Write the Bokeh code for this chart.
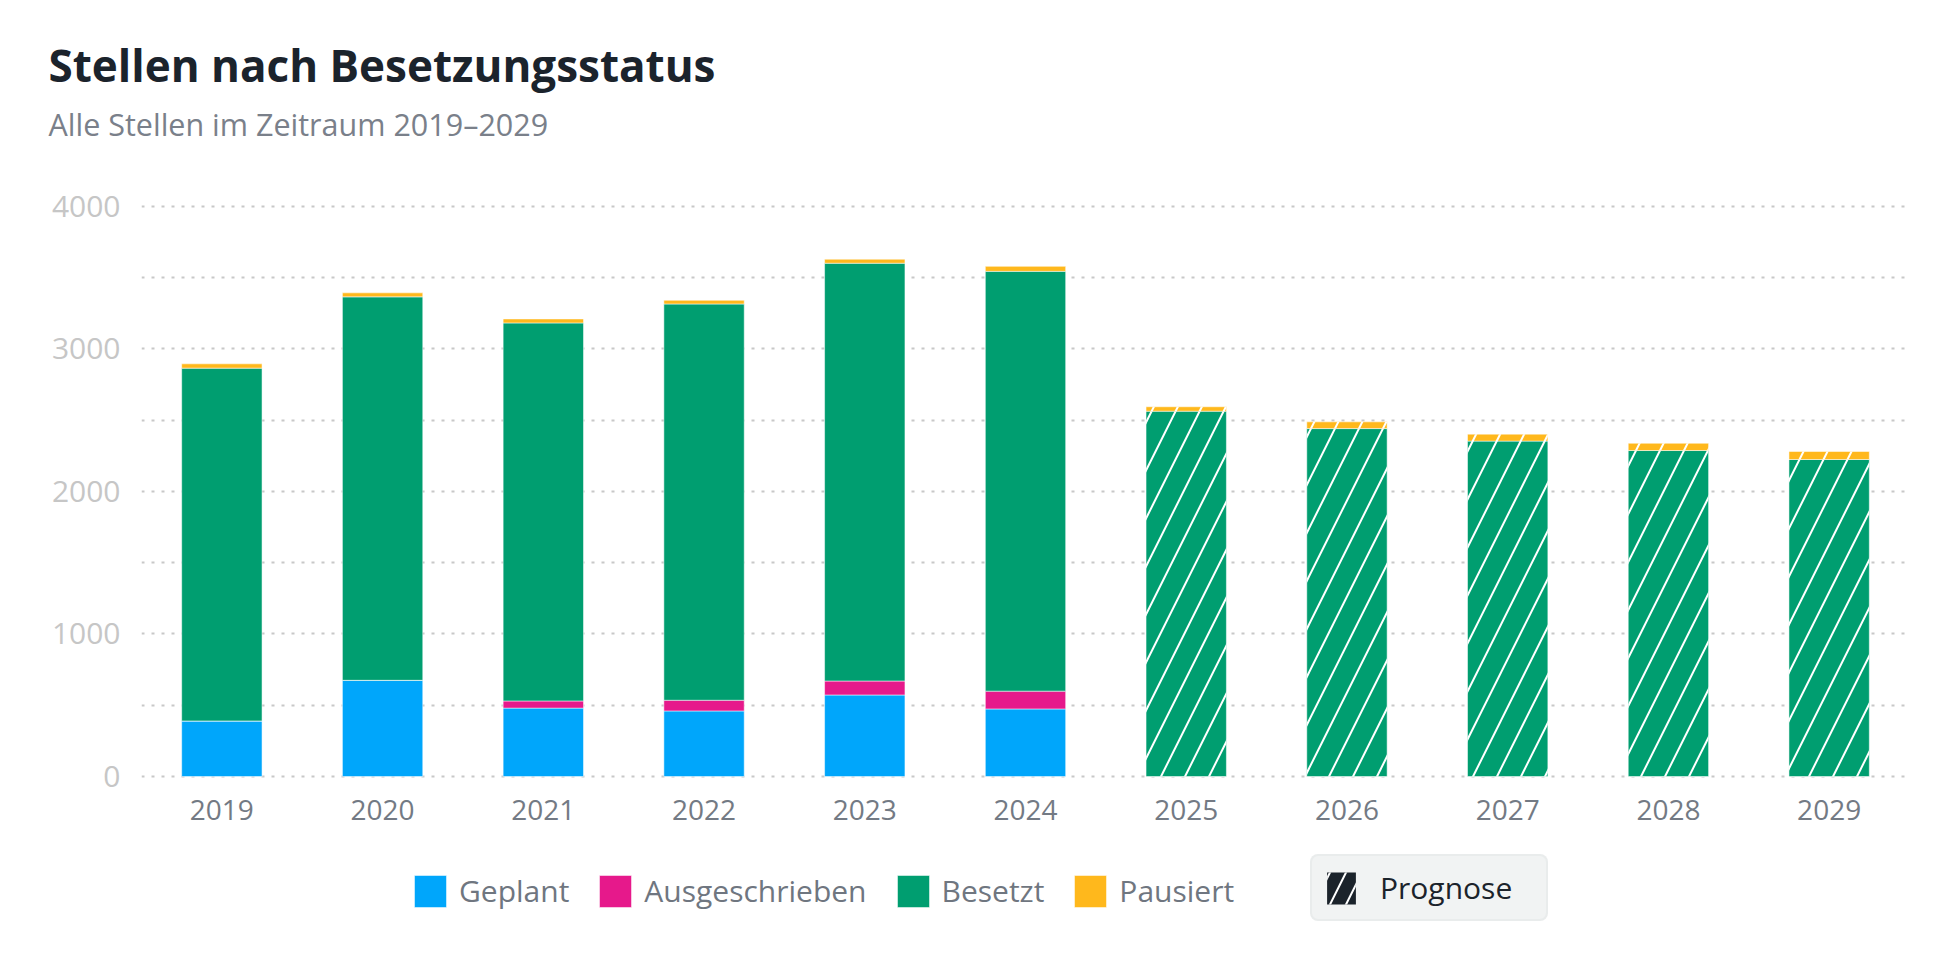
from bokeh.plotting import figure
from bokeh.models import (ColumnDataSource, FactorRange, Range1d, FixedTicker,
                          Legend, LegendItem, Title)
from bokeh.core.properties import field, value
from bokeh.embed import file_html
from bokeh.resources import INLINE

# ---------------- data ----------------
years = ["2019", "2020", "2021", "2022", "2023", "2024", "2025", "2026", "2027", "2028", "2029"]
geplant = [390, 675, 480, 460, 572, 474, 0, 0, 0, 0, 0]
ausgeschrieben = [0, 0, 50, 75, 98, 125, 0, 0, 0, 0, 0]
besetzt = [2475, 2690, 2652, 2780, 2931, 2945, 2563, 2441, 2353, 2287, 2224]
pausiert = [30, 28, 28, 26, 28, 35, 31, 47, 49, 51, 56]
prognose = [False, False, False, False, False, False, True, True, True, True, True]

y_ticks = [0, 1000, 2000, 3000, 4000]
y_minor_ticks = [500, 1500, 2500, 3500]

series_keys = ["geplant", "ausgeschrieben", "besetzt", "pausiert"]
series_labels = ["Geplant", "Ausgeschrieben", "Besetzt", "Pausiert"]
series_colors = ["#00a6fb", "#e6198b", "#009e70", "#ffb81c"]

FONT = "Open Sans"

source = ColumnDataSource(data=dict(
    year=years,
    geplant=geplant,
    ausgeschrieben=ausgeschrieben,
    besetzt=besetzt,
    pausiert=pausiert,
    base=[0] * len(years),
    hatch=["/" if f else " " for f in prognose],
))

# frame spans the whole lower area (legend lives inside it, below the zero line)
p = figure(
    width=1944, height=954,
    x_range=FactorRange(factors=years, range_padding=0),
    y_range=Range1d(-1178.5, 4020),
    x_axis_location=None,
    output_backend="svg", toolbar_location=None,
    min_border_left=141, min_border_right=35, min_border_top=203, min_border_bottom=10,
)
p.outline_line_color = None
p.background_fill_color = "white"
p.border_fill_color = "white"

renderers = p.vbar_stack(
    series_keys, x="year", width=0.5, source=source,
    fill_color=series_colors, line_color="white", line_width=1, line_alpha=0.5,
    hatch_pattern=field("hatch"), hatch_color="white", hatch_weight=2, hatch_scale=48,
)

# category labels under the zero line
p.text(x="year", y="base", text="year", source=source, text_align="center",
       text_baseline="middle", y_offset=33, text_font=value(FONT),
       text_font_size="28px", text_color="#737a84")

# titles (spacer first so it sits closest to the plot, then subtitle, then title)
p.add_layout(Title(text=" ", text_font=FONT, text_font_size="10px", standoff=40), "above")
p.add_layout(Title(text="Alle Stellen im Zeitraum 2019\u20132029", text_font=FONT,
                   text_font_size="30.5px", text_font_style="normal", text_color="#7a808a",
                   align="left", offset=-93, standoff=5), "above")
p.add_layout(Title(text="Stellen nach Besetzungsstatus", text_font=FONT,
                   text_font_size="44px", text_font_style="bold", text_color="#1b232c",
                   align="left", offset=-93, standoff=7), "above")

# y axis
p.yaxis.ticker = FixedTicker(ticks=y_ticks, minor_ticks=y_minor_ticks)
p.yaxis.axis_line_color = None
p.yaxis.major_tick_line_color = None
p.yaxis.major_tick_out = 0
p.yaxis.minor_tick_line_color = None
p.yaxis.major_label_text_font = FONT
p.yaxis.major_label_text_font_size = "30px"
p.yaxis.major_label_text_color = "#c6c6c6"
p.yaxis.major_label_standoff = 17

p.xgrid.grid_line_color = None
p.ygrid.grid_line_color = "#c8c8c8"
p.ygrid.grid_line_dash = "3 7"
p.ygrid.grid_line_width = 2
p.ygrid.minor_grid_line_color = "#c8c8c8"
p.ygrid.minor_grid_line_dash = "3 7"
p.ygrid.minor_grid_line_width = 2

# legend for series
items = [LegendItem(label=lab, renderers=[r], index=0) for lab, r in zip(series_labels, renderers)]
leg1 = Legend(items=items, location=(269, 33), orientation="horizontal",
              glyph_width=40, glyph_height=40, label_height=31, label_standoff=9, spacing=26,
              padding=0, margin=0, background_fill_alpha=0, border_line_color=None,
              label_text_font=FONT, label_text_font_size="30px", label_text_color="#6f7680")
p.add_layout(leg1)

# "Prognose" legend (hatched marker); proxy bars have zero height on the forecast years
fc_years = [y for y, f in zip(years, prognose) if f]
prog_src = ColumnDataSource(data=dict(year=fc_years, top=[0] * len(fc_years)))
r_prog = p.vbar(x="year", top="top", bottom="top", width=0.5, source=prog_src,
                fill_color="#1b232b", line_color=None, hatch_pattern="/",
                hatch_color="white", hatch_weight=2, hatch_scale=32)
leg2 = Legend(items=[LegendItem(label="Prognose", renderers=[r_prog], index=0)],
              location=(1169, 23), orientation="horizontal",
              glyph_width=36, glyph_height=40, label_height=31, label_standoff=21,
              label_width=155, padding=11, margin=0,
              background_fill_color="#f1f3f3", background_fill_alpha=1,
              border_line_color="#e2e5e5", border_line_width=2,
              label_text_font=FONT, label_text_font_size="30px", label_text_color="#1b232b")
if "border_radius" in Legend.properties():
    leg2.border_radius = 8
p.add_layout(leg2)

open("out.html", "w").write(file_html(p, INLINE))
